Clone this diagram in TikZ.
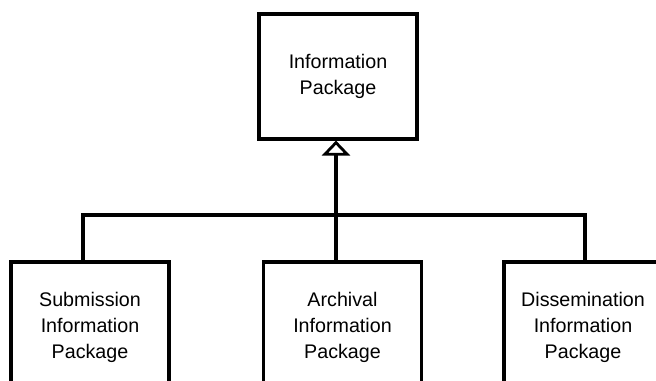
\documentclass[tikz,border=0pt]{standalone}
\usepackage{fontspec}
\setmainfont{Liberation Sans}
\usetikzlibrary{arrows.meta,positioning}

\begin{document}
\begin{tikzpicture}[every node/.style={font=\fontsize{11.2}{14.8}\selectfont,align=center},
    elem/.style={draw,line width=1.8pt,minimum width=3.16cm,inner sep=0pt},
    link/.style={line width=1.8pt},
    generalize/.style={link,-{Triangle[open,length=0.3cm,width=0.56cm,line width=1.6pt]}}]

    \useasboundingbox (0,0) rectangle (13.12,-7.62);
    \clip (0,0) rectangle (13.12,-7.62);

    \node[elem,minimum height=2.5cm] (IP) at (6.76,-1.53) {Information\\Package};
    \node[elem,minimum height=2.6cm] (SIP) at (1.8,-6.54) {Submission\\Information\\Package};
    \node[elem,minimum height=2.6cm] (AIP) at (6.85,-6.54) {Archival\\Information\\Package};
    \node[elem,minimum height=2.6cm] (DIP) at (11.66,-6.54) {Dissemination\\Information\\Package};

    \coordinate (JOIN) at (6.72,-4.3);

    \draw[link] ([xshift=-0.14cm]SIP.north) |- (JOIN) -| ([xshift=0.04cm]DIP.north);
    \draw[generalize] (JOIN |- AIP.north) -- (JOIN |- IP.south);
\end{tikzpicture}
\end{document}
